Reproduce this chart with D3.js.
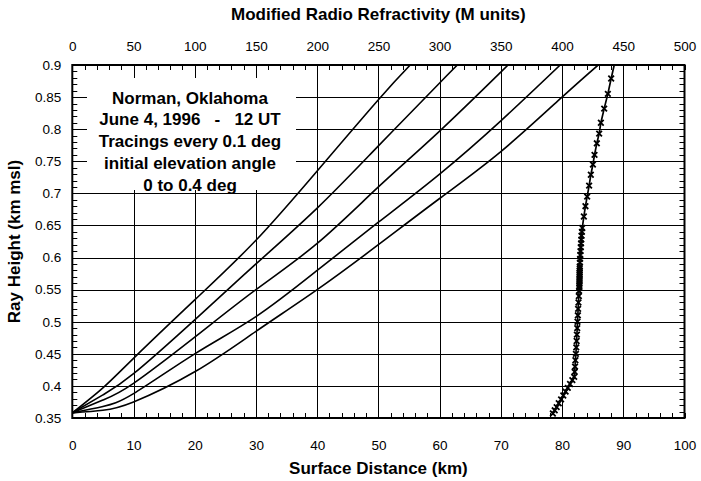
<!DOCTYPE html>
<html><head><meta charset="utf-8">
<script src="https://cdn.jsdelivr.net/npm/d3@7/dist/d3.min.js"></script>
<style>
body{margin:0;background:#fff;}
svg{display:block;font-family:"Liberation Sans",Arial,Helvetica,sans-serif;}
</style>
</head><body>
<svg id="chart" width="701" height="481"></svg>
<script>
// ---------- data ----------
const distanceTicks = [0,10,20,30,40,50,60,70,80,90,100];
const refractivityTicks = [0,50,100,150,200,250,300,350,400,450,500];
const heightTicks = [0.35,0.4,0.45,0.5,0.55,0.6,0.65,0.7,0.75,0.8,0.85,0.9];
const heightTickLabels = ["0.35","0.4","0.45","0.5","0.55","0.6","0.65","0.7","0.75","0.8","0.85","0.9"];

const annotationLines = ["Norman, Oklahoma","June 4, 1996   -   12 UT","Tracings every 0.1 deg","initial elevation angle","0 to 0.4 deg"];

// ray tracings: [surface distance km, height km msl]
const ray04 = [[0,0.358],[5,0.397],[10,0.443],[20,0.534],[30,0.627],[40,0.735],[50,0.846],[55.2,0.9]];
const ray03 = [[0,0.358],[5,0.386],[10,0.419],[20,0.503],[30,0.59],[40,0.677],[50,0.774],[60,0.872],[62.9,0.9]];
const ray02 = [[0,0.358],[5,0.378],[10,0.404],[20,0.476],[30,0.55],[40,0.622],[50,0.71],[60,0.797],[70,0.889],[71.2,0.9]];
const ray01 = [[0,0.358],[5,0.368],[10,0.388],[20,0.45],[30,0.508],[40,0.58],[50,0.655],[60,0.73],[70,0.813],[79.7,0.9]];
const ray00 = [[0,0.358],[5,0.362],[10,0.375],[20,0.422],[30,0.485],[40,0.55],[50,0.62],[60,0.692],[70,0.765],[80,0.85],[85.9,0.9]];
const rays = [ray04, ray03, ray02, ray01, ray00];

// modified refractivity profile (M units) vs height (km msl)
const profileHeight = [0.357,0.362,0.367,0.373,0.379,0.385,0.391,0.397,0.403,0.409,0.414,
  0.422,0.43,0.44,0.45,0.46,0.47,0.48,0.49,0.50,0.51,0.52,0.53,0.54,0.548,
  0.553,0.556,0.559,0.562,0.565,0.568,0.571,0.574,0.577,0.58,0.583,0.586,
  0.592,0.598,0.604,0.610,0.616,0.622,0.628,0.634,0.640,0.646,
  0.664,0.680,0.695,0.712,0.729,0.745,0.760,0.778,0.793,0.810,0.832,0.855,0.879,0.91];
const profileM = [392.5,394.0,395.6,397.3,399.2,401.0,402.9,404.7,406.5,408.4,409.9,
  410.3,410.6,410.9,411.3,411.6,411.9,412.1,412.4,412.6,412.9,413.1,413.4,413.7,413.9,
  414.1,414.2,414.2,414.2,414.3,414.3,414.3,414.3,414.4,414.4,414.4,414.5,
  414.6,414.7,414.9,415.1,415.3,415.5,415.7,415.9,416.2,416.5,
  417.8,419.1,420.5,422.1,423.5,425.2,426.5,428.4,430.3,431.7,434.4,437.4,440.1,443.8];

// ---------- chart ----------
const L = 72.3, R = 684.5, T = 65, B = 418;
const svg = d3.select("#chart");

const x = d3.scaleLinear().domain([0,100]).range([L,R]);
const xM = d3.scaleLinear().domain([0,500]).range([L,R]);
const y = d3.scaleLinear().domain([0.35,0.9]).range([B,T]);

svg.append("defs").append("clipPath").attr("id","plotclip")
  .append("rect").attr("x",L).attr("y",T).attr("width",R-L).attr("height",B-T);

// gridlines
const grid = svg.append("g").attr("stroke","#000").attr("stroke-width",1);
grid.selectAll("line.v").data(distanceTicks.slice(1,-1)).join("line").attr("class","v")
  .attr("x1",d=>Math.round(x(d))+0.5).attr("x2",d=>Math.round(x(d))+0.5)
  .attr("y1",T).attr("y2",B);
grid.selectAll("line.h").data(heightTicks.slice(1,-1)).join("line").attr("class","h")
  .attr("y1",d=>Math.round(y(d))+0.5).attr("y2",d=>Math.round(y(d))+0.5)
  .attr("x1",L).attr("x2",R);

// minor ticks (inside)
const minorX = d3.range(0,101,2);
const minorY = d3.range(35,91,1).map(v=>v/100);
const tk = svg.append("g").attr("stroke","#000").attr("stroke-width",1);
tk.selectAll("line.bt").data(minorX).join("line").attr("class","bt")
  .attr("x1",d=>Math.round(x(d))+0.5).attr("x2",d=>Math.round(x(d))+0.5).attr("y1",B).attr("y2",B-5);
tk.selectAll("line.tt").data(minorX).join("line").attr("class","tt")
  .attr("x1",d=>Math.round(x(d))+0.5).attr("x2",d=>Math.round(x(d))+0.5).attr("y1",T).attr("y2",T+5);
tk.selectAll("line.lt").data(minorY).join("line").attr("class","lt")
  .attr("y1",d=>Math.round(y(d))+0.5).attr("y2",d=>Math.round(y(d))+0.5).attr("x1",L).attr("x2",L+5);
tk.selectAll("line.rt").data(minorY).join("line").attr("class","rt")
  .attr("y1",d=>Math.round(y(d))+0.5).attr("y2",d=>Math.round(y(d))+0.5).attr("x1",R).attr("x2",R-5);

// annotation box + text
svg.append("rect").attr("x",87).attr("y",78).attr("width",209).attr("height",112).attr("fill","#fff");
svg.append("g").attr("font-weight","bold").attr("font-size",17).attr("text-anchor","middle")
  .selectAll("text").data(annotationLines).join("text")
  .attr("x",190).attr("y",(d,i)=>103.5+i*21.9)
  .attr("xml:space","preserve").style("white-space","pre")
  .text(d=>d);

// rays
const plot = svg.append("g").attr("clip-path","url(#plotclip)");
const rayLine = d3.line().x(d=>x(d[0])).y(d=>y(d[1])).curve(d3.curveNatural);
plot.selectAll("path.ray").data(rays).join("path").attr("class","ray")
  .attr("d",rayLine).attr("fill","none").attr("stroke","#000").attr("stroke-width",1.6);

// profile
const profile = profileHeight.map((h,i)=>[profileM[i],h]);
const profLine = d3.line().x(d=>xM(d[0])).y(d=>y(d[1]));
plot.append("path").datum(profile).attr("d",profLine)
  .attr("fill","none").attr("stroke","#000").attr("stroke-width",1.7);
plot.selectAll("path.mk").data(profile).join("path").attr("class","mk")
  .attr("transform",d=>`translate(${xM(d[0])},${y(d[1])})`)
  .attr("d","M-2.8,-2.8L2.8,2.8M-2.8,2.8L2.8,-2.8")
  .attr("stroke","#000").attr("stroke-width",1.8).attr("fill","none");

// frame
svg.append("rect").attr("x",L).attr("y",T).attr("width",R-L).attr("height",B-T)
  .attr("fill","none").attr("stroke","#000").attr("stroke-width",2);

// axes labels via d3 axes
const fs = 13.5;
const axB = svg.append("g").attr("transform",`translate(0,${B})`)
  .call(d3.axisBottom(x).tickValues(distanceTicks).tickSize(0).tickPadding(22).tickFormat(d3.format("d")));
const axT = svg.append("g").attr("transform",`translate(0,${T})`)
  .call(d3.axisTop(xM).tickValues(refractivityTicks).tickSize(0).tickPadding(14).tickFormat(d3.format("d")));
const axL = svg.append("g").attr("transform",`translate(${L},0)`)
  .call(d3.axisLeft(y).tickValues(heightTicks).tickSize(0).tickPadding(11).tickFormat((d,i)=>heightTickLabels[i]));
[axB,axT,axL].forEach(a=>{
  a.select(".domain").remove();
  a.selectAll("text").attr("font-size",fs).attr("fill","#000");
  a.attr("font-family",null);
});

// titles
svg.append("text").attr("x",(L+R)/2).attr("y",19.5).attr("text-anchor","middle")
  .attr("font-weight","bold").attr("font-size",17).text("Modified Radio Refractivity (M units)");
svg.append("text").attr("x",(L+R)/2).attr("y",474).attr("text-anchor","middle")
  .attr("font-weight","bold").attr("font-size",17).text("Surface Distance (km)");
svg.append("text").attr("transform",`translate(20,${(T+B)/2}) rotate(-90)`).attr("text-anchor","middle")
  .attr("font-weight","bold").attr("font-size",17).text("Ray Height (km msl)");
</script>
</body></html>
